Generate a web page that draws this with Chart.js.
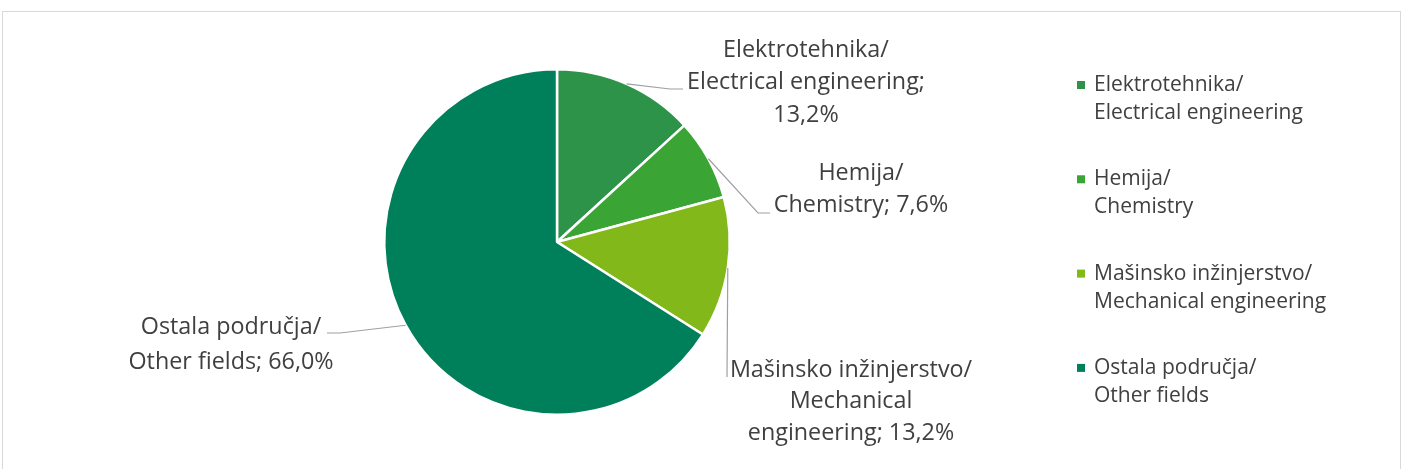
<!DOCTYPE html>
<html>
<head>
<meta charset="utf-8">
<script src="https://cdn.jsdelivr.net/npm/chart.js@4.4.0/dist/chart.umd.min.js"></script>
<style>
  html, body { margin: 0; padding: 0; background: #fff; }
  #wrap { width: 1403px; height: 469px; position: relative; }
</style>
</head>
<body>
<div id="wrap"><canvas id="pieChart"></canvas></div>
<script>
// data
var categories = [
  ['Elektrotehnika/', 'Electrical engineering'],
  ['Hemija/', 'Chemistry'],
  ['Mašinsko inžinjerstvo/', 'Mechanical engineering'],
  ['Ostala područja/', 'Other fields']
];
var shares = [13.2, 7.6, 13.2, 66.0];
var sliceColors = ['#2d9348', '#3aa535', '#82b81a', '#00805a'];

function pct(i) { return shares[i].toFixed(1).replace('.', ',') + '%'; }

// data labels, wrapped the way the original wraps them
var labelLines = [
  [categories[0][0], categories[0][1] + ';', pct(0)],
  [categories[1][0], categories[1][1] + '; ' + pct(1)],
  [categories[2][0], 'Mechanical', 'engineering; ' + pct(2)],
  [categories[3][0], categories[3][1] + '; ' + pct(3)]
];

// label placement relative to the pie centre (text centre x, first line y, elbow points)
var labelPlace = [
  { dx: 249, dy: -192, lh: 32.5, path: [[113, -153], [126, -153]] },
  { dx: 304, dy: -69, lh: 32.5, path: [[201, -29], [213, -29]] },
  { dx: 294, dy: 128, lh: 31.5, path: [[170, 135]] },
  { dx: -326, dy: 85, lh: 35, path: [[-217, 91], [-230, 91]] }
];

var FONT = '"Open Sans", "Noto Sans", sans-serif';
var textColor = '#404040';

function fitFont(ctx, sample, width, base) {
  ctx.font = base + 'px ' + FONT;
  var w = ctx.measureText(sample).width;
  return base * width / w;
}

var decorPlugin = {
  id: 'decor',
  beforeDraw: function(chart) {
    var ctx = chart.ctx;
    ctx.save();
    ctx.strokeStyle = '#d9d9d9';
    ctx.lineWidth = 1;
    ctx.strokeRect(2.5, 11.5, 1398, 500);
    ctx.restore();
  },
  afterDraw: function(chart) {
    var ctx = chart.ctx;
    var arcs = chart.getDatasetMeta(0).data;
    if (!arcs.length) return;
    var cx = arcs[0].x, cy = arcs[0].y;
    var lblSize = fitFont(ctx, 'Electrical engineering;', 238, 20);
    var legSize = fitFont(ctx, 'Electrical engineering', 209, 18);

    ctx.save();
    // leader lines
    ctx.strokeStyle = '#a0a0a0';
    ctx.lineWidth = 1.2;
    arcs.forEach(function(arc, i) {
      var mid = (arc.startAngle + arc.endAngle) / 2;
      var r = arc.outerRadius;
      ctx.beginPath();
      ctx.moveTo(cx + Math.cos(mid) * r, cy + Math.sin(mid) * r);
      labelPlace[i].path.forEach(function(p) { ctx.lineTo(cx + p[0], cy + p[1]); });
      ctx.stroke();
    });

    // data labels
    ctx.fillStyle = textColor;
    ctx.textAlign = 'center';
    ctx.textBaseline = 'middle';
    ctx.font = lblSize + 'px ' + FONT;
    labelLines.forEach(function(lines, i) {
      var p = labelPlace[i];
      lines.forEach(function(t, k) {
        ctx.fillText(t, cx + p.dx, cy + p.dy + k * p.lh);
      });
    });

    // legend
    ctx.textAlign = 'left';
    ctx.font = legSize + 'px ' + FONT;
    categories.forEach(function(parts, i) {
      var y = 85 + i * 94.3;
      ctx.fillStyle = sliceColors[i];
      ctx.fillRect(1077, y - 4, 8, 8);
      ctx.fillStyle = textColor;
      parts.forEach(function(t, k) {
        ctx.fillText(t, 1094, y + k * 28);
      });
    });
    ctx.restore();
  }
};

new Chart(document.getElementById('pieChart'), {
  type: 'pie',
  data: {
    labels: categories.map(function(c) { return c.join(' '); }),
    datasets: [{
      data: shares,
      backgroundColor: sliceColors,
      borderColor: '#ffffff',
      borderWidth: 2.5
    }]
  },
  options: {
    responsive: true,
    maintainAspectRatio: false,
    animation: false,
    layout: { padding: { left: 383, right: 672, top: 67, bottom: 52 } },
    plugins: {
      legend: { display: false },
      tooltip: { enabled: false }
    }
  },
  plugins: [decorPlugin]
});
</script>
</body>
</html>
